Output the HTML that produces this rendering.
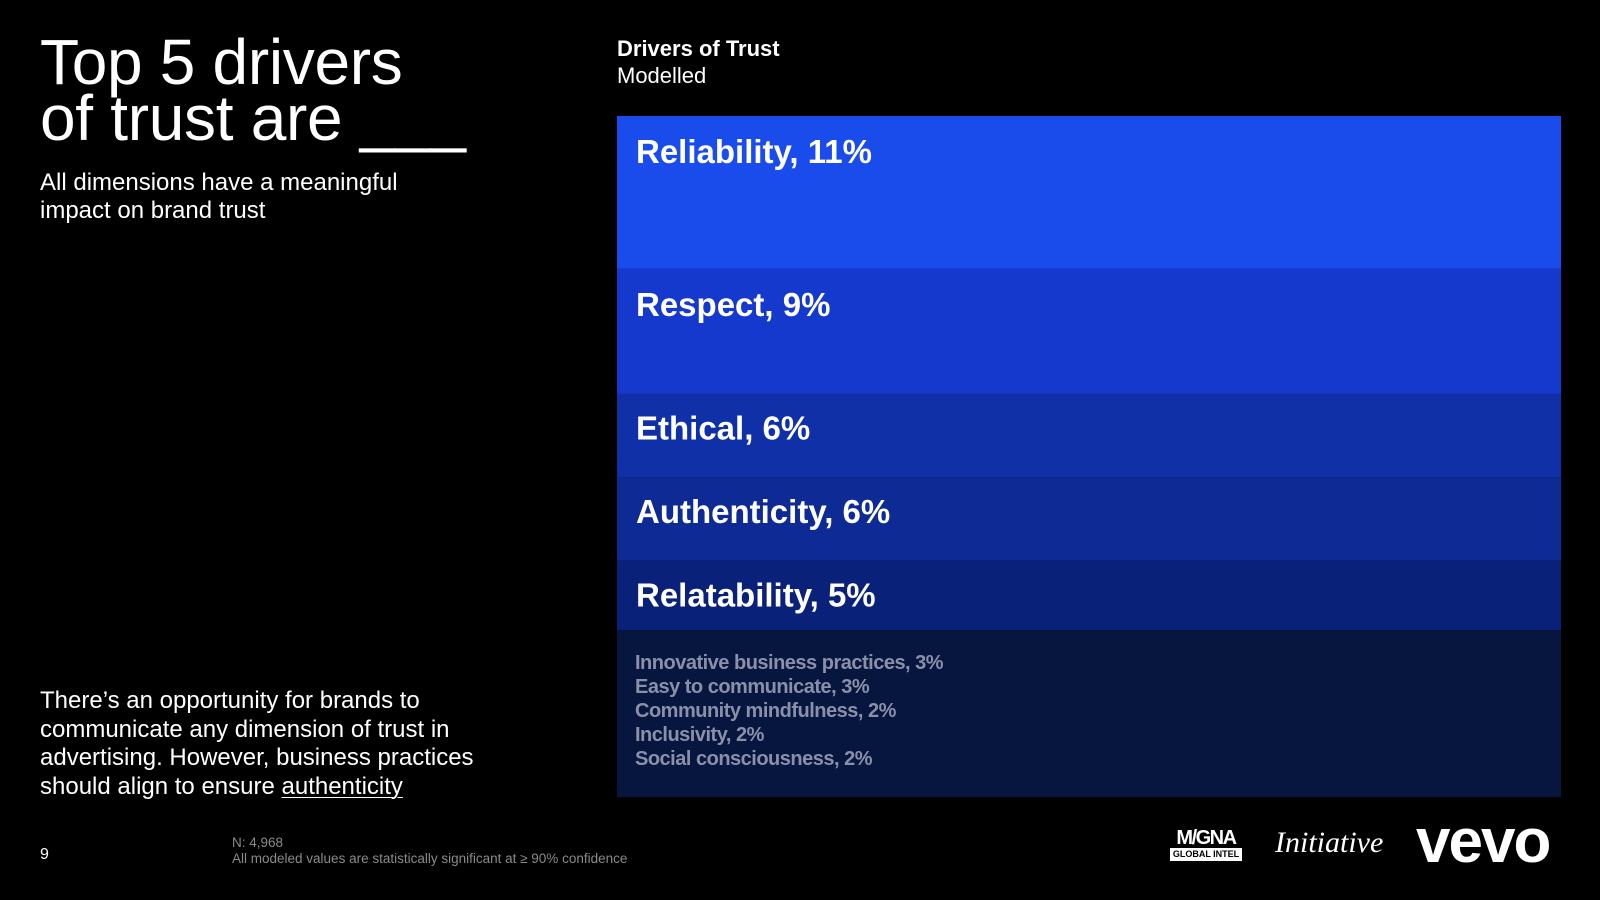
<!DOCTYPE html>
<html><head><meta charset="utf-8"><style>
body{margin:0;width:1600px;height:900px;background:#000;overflow:hidden;font-family:"Liberation Sans",sans-serif;color:#fff;position:relative}
.abs{position:absolute}
#title{left:40px;top:34px;font-size:64px;line-height:56px;letter-spacing:-0.3px}
#sub{left:40px;top:169px;font-size:24px;line-height:28px}
#body{left:40px;top:687px;font-size:24px;line-height:28.5px}
#body u{text-decoration-thickness:1px;text-underline-offset:3px}
#ct{left:617px;top:35px;font-size:22px;line-height:27px}
#pn{left:40px;top:846px;font-size:16px}
#fn{left:232px;top:835px;font-size:13.5px;line-height:16px;color:#8a8a8a}
</style></head><body>
<div id="title" class="abs">Top 5 drivers<br>of trust are ___</div>
<div id="sub" class="abs">All dimensions have a meaningful<br>impact on brand trust</div>
<div id="body" class="abs">There’s an opportunity for brands to<br>communicate any dimension of trust in<br>advertising. However, business practices<br>should align to ensure <u>authenticity</u></div>
<div id="ct" class="abs"><b>Drivers of Trust</b><br>Modelled</div>
<svg class="abs" style="left:0;top:0" width="1600" height="900" id="chart"></svg>
<div id="pn" class="abs">9</div>
<div id="fn" class="abs">N: 4,968<br>All modeled values are statistically significant at ≥ 90% confidence</div>
<div class="abs" style="left:1170px;top:829px;width:72px;font-weight:bold;font-size:20px;line-height:18px;letter-spacing:-1.5px;text-align:center">M/GNA<div style="background:#fff;color:#000;font-size:9px;line-height:13px;letter-spacing:0;margin-top:1px">GLOBAL INTEL</div></div>
<div class="abs" style="left:1275px;top:826px;font-family:'Liberation Serif',serif;font-style:italic;font-size:30px">Initiative</div>
<div class="abs" style="left:1416px;top:806px;font-weight:bold;font-size:62px;letter-spacing:-2px">vevo</div>
<script>
const categories=["Reliability","Respect","Ethical","Authenticity","Relatability","Other"];
const values=[11,9,6,6,5,12];
const otherLabels=["Innovative business practices, 3%","Easy to communicate, 3%","Community mindfulness, 2%","Inclusivity, 2%","Social consciousness, 2%"];
const colors=["#1a4cec","#1439cc","#1030a8","#0d2a95","#0a2179","#07163f"];
const svg=document.getElementById('chart');
const NS='http://www.w3.org/2000/svg';
const x0=617,x1=1561,y0=116,y1=797;
const total=values.reduce((a,b)=>a+b,0);
const yScale=v=>v/total*(y1-y0);
let y=y0;
values.forEach((v,i)=>{
 const h=yScale(v);
 const r=document.createElementNS(NS,'rect');
 r.setAttribute('x',x0);r.setAttribute('y',y);r.setAttribute('width',x1-x0);r.setAttribute('height',h);r.setAttribute('fill',colors[i]);
 
 
 svg.appendChild(r);
 if(i<values.length-1){
  const t=document.createElementNS(NS,'text');
  t.setAttribute('x',x0+19);t.setAttribute('y',y+(i<2?47:(i===4?h/2+11:h/2+4)));
  t.setAttribute('fill','#fff');t.setAttribute('font-size','33');t.setAttribute('font-weight','bold');
  t.textContent=categories[i]+', '+v+'%';
  
  
  svg.appendChild(t);
 } else {
  otherLabels.forEach((s,j)=>{
   const t=document.createElementNS(NS,'text');
   t.setAttribute('x',x0+18);t.setAttribute('y',y+39+j*24);
   t.setAttribute('fill','#8a90aa');t.setAttribute('font-size','20');t.setAttribute('font-weight','bold');t.setAttribute('letter-spacing','-0.5');
   t.textContent=s;
   
   
   svg.appendChild(t);
  });
 }
 y+=h;
});
</script>
</body></html>
